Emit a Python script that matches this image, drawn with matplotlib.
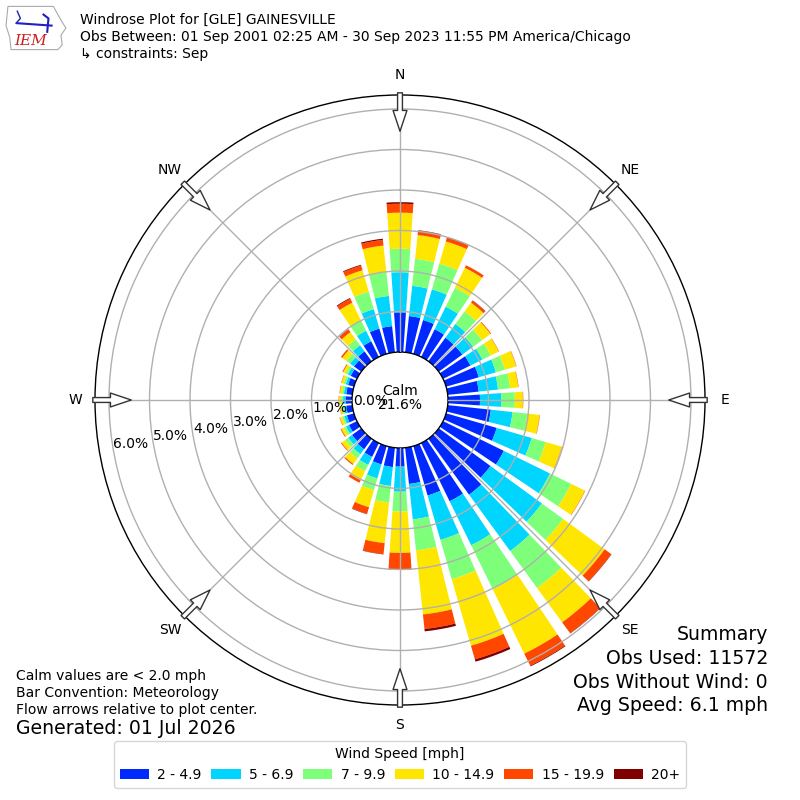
import numpy as np
import matplotlib
matplotlib.use("Agg")
import matplotlib.pyplot as plt
from matplotlib.patches import Patch, Polygon

# direction bins (deg, meteorological) and percent frequency per speed bin
dirs = np.arange(0, 360, 10)
spd_2_5 = [0.98, 0.90, 0.87, 0.76, 0.72, 0.72, 0.75, 0.84, 0.77, 0.79, 1.07, 1.30,
           1.67, 1.58, 1.71, 1.60, 1.27, 0.90, 0.46, 0.48, 0.47, 0.38, 0.32, 0.28,
           0.22, 0.18, 0.15, 0.16, 0.15, 0.15, 0.17, 0.22, 0.30, 0.43, 0.65, 0.65]
spd_5_7 = [0.99, 0.75, 0.79, 0.62, 0.42, 0.33, 0.33, 0.44, 0.48, 0.53, 0.54, 0.90,
           1.27, 1.57, 1.72, 1.21, 1.14, 0.88, 0.62, 0.47, 0.36, 0.22, 0.15, 0.12,
           0.08, 0.07, 0.06, 0.06, 0.06, 0.06, 0.08, 0.12, 0.19, 0.29, 0.50, 0.75]
spd_7_10 = [0.58, 0.67, 0.66, 0.52, 0.38, 0.27, 0.23, 0.23, 0.30, 0.33, 0.37, 0.36,
            0.58, 0.65, 1.13, 1.21, 1.01, 0.77, 0.49, 0.41, 0.30, 0.17, 0.13, 0.09,
            0.06, 0.05, 0.04, 0.05, 0.05, 0.05, 0.06, 0.11, 0.18, 0.28, 0.45, 0.59]
spd_10_15 = [0.89, 0.59, 0.57, 0.55, 0.27, 0.26, 0.22, 0.29, 0.20, 0.20, 0.30, 0.41,
             0.38, 1.27, 1.05, 1.77, 1.71, 1.59, 1.02, 1.01, 0.44, 0.25, 0.17, 0.11,
             0.07, 0.06, 0.05, 0.05, 0.05, 0.06, 0.07, 0.13, 0.22, 0.49, 0.55, 0.66]
spd_15_20 = [0.22, 0.11, 0.10, 0.07, 0.06, 0.02, 0.01, 0.01, 0.01, 0.01, 0.01, 0.01,
             0.01, 0.20, 0.33, 0.33, 0.35, 0.36, 0.41, 0.27, 0.17, 0.07, 0.03, 0.02,
             0.02, 0.01, 0.01, 0.01, 0.01, 0.01, 0.02, 0.04, 0.08, 0.11, 0.12, 0.14]
spd_20p = [0.04, 0.01, 0.01, 0.00, 0.01, 0.00, 0.00, 0.00, 0.00, 0.00, 0.00, 0.00,
           0.00, 0.01, 0.01, 0.02, 0.06, 0.06, 0.01, 0.01, 0.01, 0.00, 0.00, 0.00,
           0.00, 0.00, 0.00, 0.00, 0.00, 0.00, 0.00, 0.00, 0.01, 0.02, 0.02, 0.03]
bin_labels = ["2 - 4.9", "5 - 6.9", "7 - 9.9", "10 - 14.9", "15 - 19.9", "20+"]
rings = [0, 1, 2, 3, 4, 5, 6]
compass = ["N", "NE", "E", "SE", "S", "SW", "W", "NW"]
calm_pct = 21.6

series = [spd_2_5, spd_5_7, spd_7_10, spd_10_15, spd_15_20, spd_20p]
colors = plt.cm.jet(np.arange(1, 7) / 6.0)

fig = plt.figure(figsize=(8, 8), dpi=100)
ax = fig.add_axes([0.11875, 0.11875, 0.7625, 0.7625], projection="polar")
ax.set_theta_zero_location("N")
ax.set_theta_direction(-1)
ax.set_rorigin(-1.185)
ax.set_ylim(0, 6.346)

theta = np.deg2rad(dirs)
base = np.zeros(len(dirs))
for vals, col in zip(series, colors):
    vals = np.array(vals)
    ax.bar(theta, vals, width=np.deg2rad(7.8), bottom=base, color=col,
           edgecolor="none", zorder=1)
    base += vals

# grid on top of the bars
ax.set_axisbelow(False)
ax.set_rgrids(rings[1:], labels=[""] * 6)
ax.set_thetagrids(range(0, 360, 45), labels=[""] * 8)
ax.grid(True, color="#b0b0b0", lw=1)
ax.spines["polar"].set_linewidth(1)
ax.spines["inner"].set_visible(True)
ax.spines["inner"].set_linewidth(1)

for r in rings:
    ax.text(np.deg2rad(260), r, "%.1f%%" % r, ha="left", va="bottom", fontsize=10)

for i, lab in enumerate(compass):
    th = np.deg2rad(i * 45)
    ax.text(th, 6.84, lab, ha="center", va="center", fontsize=10)
    ax.annotate("", xy=(th, 5.45), xytext=(th, 6.40), annotation_clip=False,
                arrowprops=dict(arrowstyle="simple,head_length=1.5,head_width=1.0,tail_width=0.35",
                                fc="white", ec="#333333", lw=1, shrinkA=0, shrinkB=0))

fig.text(0.5, 1 - 398 / 800, "Calm\n%.1f%%" % calm_pct, ha="center", va="center",
         fontsize=10, linespacing=1.0)

# header
fig.text(80 / 800, 1 - 20 / 800, "Windrose Plot for [GLE] GAINESVILLE", fontsize=10, va="center")
fig.text(80 / 800, 1 - 37 / 800,
         "Obs Between: 01 Sep 2001 02:25 AM - 30 Sep 2023 11:55 PM America/Chicago",
         fontsize=10, va="center")
fig.text(80 / 800, 1 - 54 / 800, "\u21b3 constraints: Sep", fontsize=10, va="center")

# rough IEM logo
lax = fig.add_axes([0.006, 0.935, 0.078, 0.06])
lax.set_xlim(0, 1)
lax.set_ylim(0, 1)
lax.axis("off")
iowa = [(0.05, 0.95), (0.78, 0.95), (0.82, 0.85), (0.92, 0.62), (0.98, 0.5), (0.9, 0.35),
        (0.92, 0.15), (0.85, 0.05), (0.1, 0.05), (0.08, 0.3), (0.02, 0.55), (0.05, 0.95)]
lax.add_patch(Polygon(iowa, closed=True, fill=False, ec="#aaaaaa", lw=0.8))
lax.plot([0.2, 0.75], [0.6, 0.55], color="#2020c0", lw=1.5)
lax.plot([0.2, 0.25, 0.18], [0.85, 0.7, 0.6], color="#2020c0", lw=1)
lax.plot([0.62, 0.7, 0.68], [0.78, 0.7, 0.42], color="#2020c0", lw=1.5)
lax.text(0.42, 0.22, "IEM", color="#cc2020", fontsize=11, style="italic",
         family="DejaVu Serif", ha="center", va="center")

# notes
notes = ["Calm values are < 2.0 mph", "Bar Convention: Meteorology",
         "Flow arrows relative to plot center."]
for j, t in enumerate(notes):
    fig.text(16 / 800, 1 - (676 + 17 * j) / 800, t, fontsize=10, va="center")
fig.text(16 / 800, 1 - 729 / 800, "Generated: 01 Jul 2026", fontsize=13.6, va="center")

summary = ["Summary", "Obs Used: 11572", "Obs Without Wind: 0", "Avg Speed: 6.1 mph"]
for j, t in enumerate(summary):
    fig.text(768 / 800, 1 - (635 + 23.5 * j) / 800, t, fontsize=13.6, ha="right", va="center")

handles = [Patch(facecolor=c) for c in colors]
leg = fig.legend(handles, bin_labels, ncol=6, loc="center",
                 bbox_to_anchor=(0.5, 1 - 764.5 / 800), title="Wind Speed [mph]",
                 fontsize=10, title_fontsize=10, handlelength=2.1, columnspacing=0.7,
                 handletextpad=0.6)

fig.savefig("out.png", dpi=100)
